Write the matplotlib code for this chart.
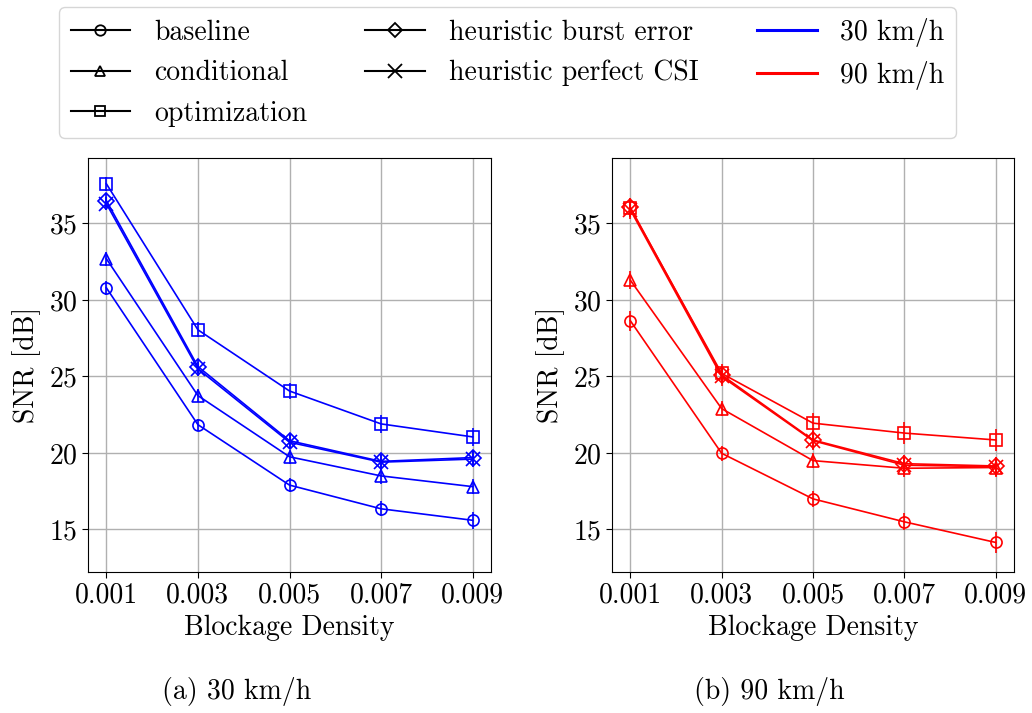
import matplotlib
matplotlib.use("Agg")
import matplotlib.pyplot as plt
from matplotlib.lines import Line2D

plt.rcParams['font.family'] = 'serif'
plt.rcParams['font.serif'] = ['cmr10']
plt.rcParams['mathtext.fontset'] = 'cm'
plt.rcParams['axes.formatter.use_mathtext'] = True
plt.rcParams['axes.unicode_minus'] = False

density = [0.001, 0.003, 0.005, 0.007, 0.009]
tick_labels = ['0.001', '0.003', '0.005', '0.007', '0.009']
methods = ['baseline', 'conditional', 'optimization',
           'heuristic burst error', 'heuristic perfect CSI']
markers = ['o', '^', 's', 'D', 'x']
msizes = [8, 8, 8, 8, 10]

# 30 km/h
snr_30 = [
    [30.8, 21.85, 17.9, 16.35, 15.6],
    [32.7, 23.75, 19.75, 18.5, 17.8],
    [37.6, 28.05, 24.05, 21.9, 21.05],
    [36.5, 25.65, 20.8, 19.45, 19.7],
    [36.3, 25.5, 20.7, 19.4, 19.6],
]
err_30 = [
    [0.45, 0.4, 0.45, 0.5, 0.55],
    [0.45, 0.45, 0.45, 0.5, 0.5],
    [0.45, 0.5, 0.55, 0.6, 0.6],
    [0.45, 0.45, 0.45, 0.5, 0.5],
    [0.45, 0.45, 0.45, 0.5, 0.5],
]
# 90 km/h
snr_90 = [
    [28.65, 19.98, 17.0, 15.5, 14.15],
    [31.3, 22.9, 19.5, 19.0, 19.05],
    [36.0, 25.2, 21.95, 21.3, 20.85],
    [36.05, 25.1, 20.85, 19.3, 19.15],
    [35.9, 25.0, 20.8, 19.2, 19.1],
]
err_90 = [
    [0.65, 0.5, 0.5, 0.55, 0.7],
    [0.6, 0.5, 0.5, 0.55, 0.6],
    [0.6, 0.6, 0.65, 0.7, 0.7],
    [0.6, 0.6, 0.6, 0.6, 0.6],
    [0.6, 0.6, 0.6, 0.6, 0.6],
]

W, H = 1032, 713
fig = plt.figure(figsize=(W / 100, H / 100), dpi=100)

ax1 = fig.add_axes([88 / W, 1 - 572 / H, 403 / W, 414 / H])
ax2 = fig.add_axes([612 / W, 1 - 572 / H, 402 / W, 414 / H], sharey=ax1)


def draw(ax, data, errs, color):
    for vals, e, m, s in zip(data, errs, markers, msizes):
        ax.errorbar(density, vals, yerr=e, color=color, marker=m, ms=s,
                    mfc='none', mew=1.2, lw=1.2, elinewidth=1.2, capsize=0)
    ax.set_xticks(density)
    ax.set_xticklabels(tick_labels)
    ax.set_yticks([15, 20, 25, 30, 35])
    ax.grid(True, color='#b0b0b0', lw=1.0)
    ax.set_axisbelow(True)
    ax.tick_params(labelsize=20, length=4)
    ax.set_xlabel('Blockage Density', fontsize=20, labelpad=4)
    ax.set_ylabel('SNR [dB]', fontsize=20, labelpad=6)


draw(ax1, snr_30, err_30, 'blue')
draw(ax2, snr_90, err_90, 'red')
ax2.tick_params(labelleft=True)

fig.text(237 / W, 1 - 692 / H, '(a) 30 km/h', fontsize=20, ha='center', va='center')
fig.text(769 / W, 1 - 692 / H, '(b) 90 km/h', fontsize=20, ha='center', va='center')

handles = []
for name, m, s in zip(methods, markers, msizes):
    handles.append(Line2D([], [], color='black', marker=m, ms=s - 0.5, mfc='none',
                          mew=1.3, lw=1.5, label=name))
handles.append(Line2D([], [], color='blue', lw=2.2, label='30 km/h'))
handles.append(Line2D([], [], color='red', lw=2.2, label='90 km/h'))
# column-major fill with ncol=3, blank slot at the bottom of column 2
order = [handles[0], handles[1], handles[2], handles[3], handles[4],
         Line2D([], [], color='none', label=' '), handles[5], handles[6]]
leg = fig.legend(handles=order, loc='upper center', ncol=3, fontsize=20,
                 bbox_to_anchor=(507.5 / W, 1 - 7 / H), borderaxespad=0,
                 handlelength=2.15, handletextpad=0.85, columnspacing=2.1,
                 frameon=True)
leg.get_frame().set_edgecolor('#cccccc')

fig.savefig('out.png', dpi=100)
